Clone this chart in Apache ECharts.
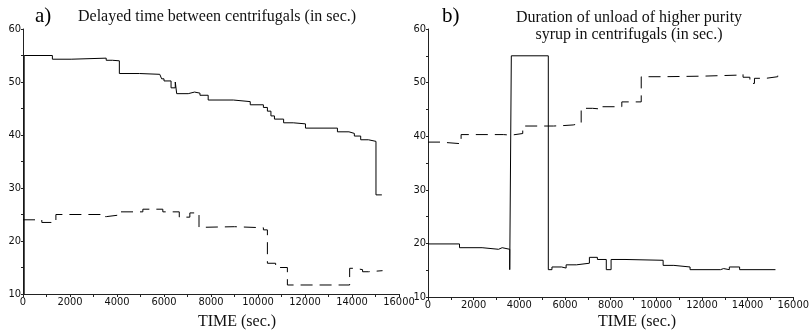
<!DOCTYPE html>
<html>
<head>
<meta charset="utf-8">
<script src="https://cdn.jsdelivr.net/npm/echarts@6/dist/echarts.min.js"></script>
<style>
html,body{margin:0;padding:0;background:#fff;}
#c{width:812px;height:331px;}
</style>
</head>
<body>
<div id="c"></div>
<script>
// ---- data (time in sec., value in sec.) ----
const titleA = "Delayed time between centrifugals (in sec.)";
const titleB1 = "Duration of unload of higher purity";
const titleB2 = "syrup in centrifugals (in sec.)";
const xName = "TIME (sec.)";

const leftSolid = [
  [50,10],[50,55],[1250,54.3],[2050,54.5],[3540,54.1],[3800,54.0],[4100,51.6],[4960,51.45],
  [5820,51.1],[5900,50.6],[6000,50.2],[6300,48.9],[6480,50.0],[6540,47.8],[7030,48.1],
  [7300,47.9],[7530,47.5],[7880,46.6],[8950,46.3],[9670,45.7],[10230,45.2],[10400,44.5],
  [10550,43.6],[10700,43.0],[11090,42.3],[11500,42.1],[12020,41.3],[13380,40.6],[13870,40.3],
  [14100,39.8],[14370,39.1],[14700,38.8],[15020,28.7],[15270,28.7]
];
const leftDashed = [
  [0,24.0],[800,23.5],[1400,25.0],[3350,24.6],[3550,24.9],[4100,25.5],[5100,26.0],[5950,25.5],
  [6650,24.5],[7100,25.3],[7490,22.6],[7830,22.7],[9000,22.5],[10230,22.1],[10400,15.8],
  [10750,15.0],[11250,11.7],[13900,14.85],[14100,14.6],[14450,14.2],[14700,14.4],[15300,14.4]
];
const rightSolid = [
  [0,19.9],[1380,19.2],[2370,18.9],[3090,19.2],[3250,18.9],[3580,15.1],[3650,55],[5270,15.1],
  [5430,15.6],[5850,15.4],[6050,16.0],[6500,16.3],[7070,17.4],[7420,17.0],[7810,15.1],
  [8020,17.0],[8630,16.85],[10300,15.9],[10770,15.6],[11480,15.1],[12810,15.3],[12950,15.1],
  [13200,15.6],[13650,15.1],[15220,15.1]
];
const rightDashed = [
  [0,38.9],[530,38.6],[1450,40.3],[3300,40.2],[3650,40.5],[4150,41.9],[5500,42.0],[6000,42.1],
  [6360,42.4],[6710,45.2],[7210,45.05],[7640,45.5],[8490,46.4],[9340,51.1],[10340,51.2],
  [12000,51.4],[13610,51.6],[13800,51.0],[14100,49.85],[14300,50.8],[14800,51.1],[15320,51.3]
];

const xMin = 0, xMax = 16000, xStep = 2000;
const yMin = 10, yMax = 60, yStep = 10;

// ---- chart ----
const tickFont = "'Liberation Sans Narrow','DejaVu Sans Condensed',sans-serif";
const serif = "'Liberation Serif','DejaVu Serif',serif";
const axisColor = '#222';

function xAxisCfg(gi){
  return {
    gridIndex: gi, type:'value', min:xMin, max:xMax, interval:xStep,
    axisLine:{show:true, onZero:false, lineStyle:{color:axisColor, width:1}},
    axisTick:{show:true, length:3, lineStyle:{color:axisColor}},
    minorTick:{show:true, splitNumber:2, length:3, lineStyle:{color:axisColor}},
    splitLine:{show:false},
    axisLabel:{color:'#111', fontFamily:tickFont, fontSize:11, margin:3,
      formatter: v => String(v)}
  };
}
function yAxisCfg(gi){
  return {
    gridIndex: gi, type:'value', min:yMin, max:yMax, interval:yStep,
    axisLine:{show:true, onZero:false, lineStyle:{color:axisColor, width:1}},
    axisTick:{show:true, length:2, lineStyle:{color:axisColor}},
    minorTick:{show:true, splitNumber:2, length:2, lineStyle:{color:axisColor}},
    splitLine:{show:false},
    axisLabel:{color:'#111', fontFamily:tickFont, fontSize:11, margin:2,
      formatter: v => String(v)}
  };
}
function lineSeries(data, gi, dashed){
  return {
    type:'line', xAxisIndex:gi, yAxisIndex:gi, data:data, step:'end',
    showSymbol:false, symbol:'none', silent:true,
    lineStyle:{color:'#000', width:1, type: dashed ? [12,7] : 'solid'}
  };
}

const chart = echarts.init(document.getElementById('c'), null, {renderer:'canvas'});
chart.setOption({
  animation:false,
  backgroundColor:'#fff',
  grid:[
    {left:23, right:413, top:29, bottom:37},
    {left:428, right:9, top:29, bottom:34}
  ],
  xAxis:[xAxisCfg(0), xAxisCfg(1)],
  yAxis:[yAxisCfg(0), yAxisCfg(1)],
  series:[
    lineSeries(leftSolid,0,false),
    lineSeries(leftDashed,0,true),
    lineSeries(rightSolid,1,false),
    lineSeries(rightDashed,1,true)
  ],
  graphic:[
    {type:'text', left:35, top:6, style:{text:'a)', font:'21px '+serif, fill:'#000'}},
    {type:'text', left:78, top:9, style:{text:titleA, font:'16px '+serif, fill:'#111'}},
    {type:'text', left:442, top:6, style:{text:'b)', font:'21px '+serif, fill:'#000'}},
    {type:'text', x:629, y:10, style:{text:titleB1, font:'16px '+serif, fill:'#111', align:'center'}},
    {type:'text', x:629, y:27, style:{text:titleB2, font:'16px '+serif, fill:'#111', align:'center'}},
    {type:'text', x:237, y:314, style:{text:xName, font:'16px '+serif, fill:'#111', align:'center'}},
    {type:'text', x:637, y:314, style:{text:xName, font:'16px '+serif, fill:'#111', align:'center'}}
  ]
});
</script>
</body>
</html>
